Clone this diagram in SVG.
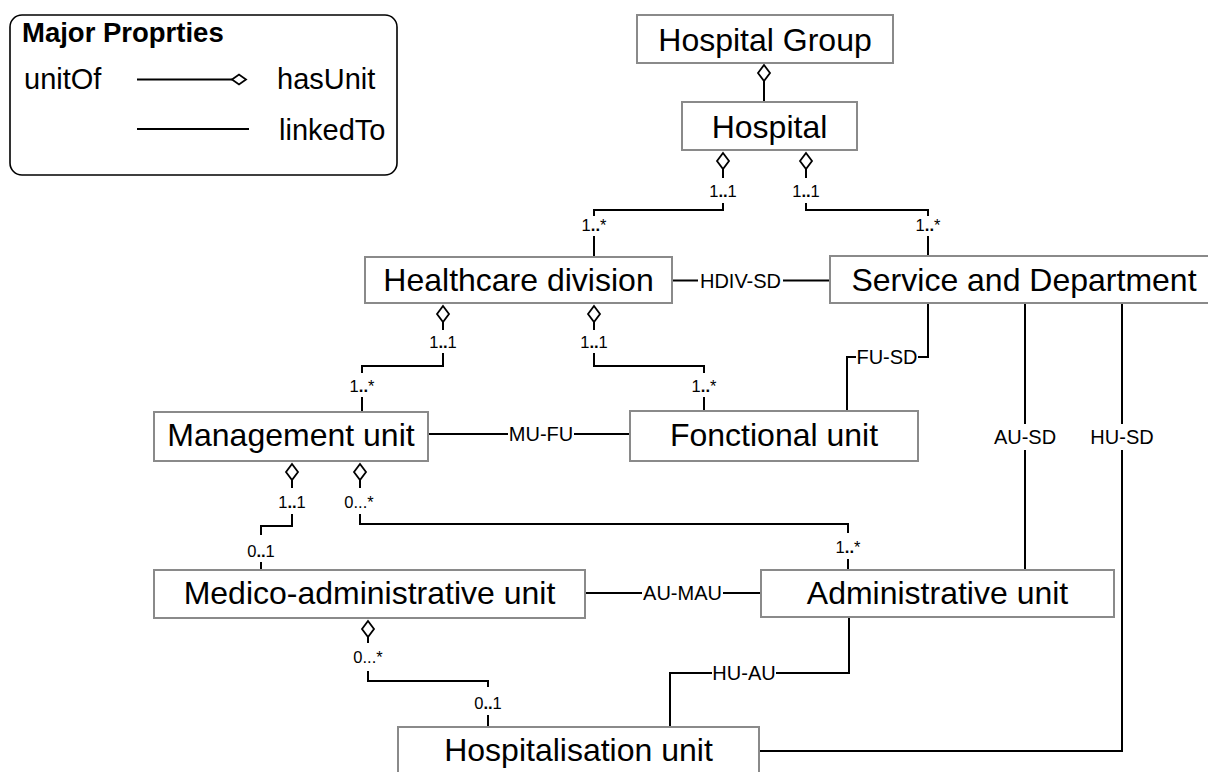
<svg xmlns="http://www.w3.org/2000/svg" xmlns:xlink="http://www.w3.org/1999/xlink" width="1208" height="772" viewBox="0 0 1208 772">
<style>
  text { font-family: "Liberation Sans", Arial, Helvetica, sans-serif; fill: #000; }
  .node rect { fill: #fff; stroke: #8a8a8a; stroke-width: 2; }
  .node text { font-size: 32px; text-anchor: middle; }
  .conn path { fill: none; stroke: #000; stroke-width: 2; }
  .lbl { font-size: 20px; text-anchor: middle; }
  .mult { font-size: 16.5px; text-anchor: middle; }
  .dia { fill: #fff; stroke: #000; stroke-width: 1.8; }
  .leg { font-size: 29px; }
</style>
<defs>
  <path id="dia" d="M0,0 L6,8 L0,16 L-6,8 Z"/>
</defs>

<g id="legend">
  <rect x="10" y="15" width="387" height="160" rx="12" ry="12" fill="#fff" stroke="#000" stroke-width="1.6"/>
  <text x="22" y="42" font-size="27.5" font-weight="bold">Major Proprties</text>
  <text class="leg" x="24" y="89">unitOf</text>
  <path d="M137,79.5 H232" stroke="#000" stroke-width="2" fill="none"/>
  <path d="M232,79.5 L239,74.5 L246,79.5 L239,84.5 Z" fill="#fff" stroke="#000" stroke-width="1.8"/>
  <text class="leg" x="277" y="89">hasUnit</text>
  <path d="M137,129 H249" stroke="#000" stroke-width="2" fill="none"/>
  <text class="leg" x="279" y="140">linkedTo</text>
</g>

<g id="connectors" class="conn">
  <!-- Hospital Group - Hospital -->
  <path d="M764,81 V102"/>
  <!-- Hospital - Healthcare division -->
  <path d="M723,169 V178"/>
  <path d="M723,203 V210 H594 V216"/>
  <path d="M594,236 V257"/>
  <!-- Hospital - Service and Department -->
  <path d="M806,169 V178"/>
  <path d="M806,203 V210 H928 V216"/>
  <path d="M928,236 V256"/>
  <!-- HDIV-SD -->
  <path d="M672,280.5 H698"/>
  <path d="M783,280.5 H830"/>
  <!-- Healthcare - Management -->
  <path d="M443,322 V330"/>
  <path d="M443,353 V366 H362 V373"/>
  <path d="M362,397 V412"/>
  <!-- Healthcare - Fonctional -->
  <path d="M594,322 V330"/>
  <path d="M594,353 V366 H704 V373"/>
  <path d="M704,397 V411"/>
  <!-- FU-SD -->
  <path d="M928,303 V357 H918"/>
  <path d="M856,357 H847 V411"/>
  <!-- MU-FU -->
  <path d="M428,434 H508"/>
  <path d="M574,434 H630"/>
  <!-- AU-SD -->
  <path d="M1025,303 V424"/>
  <path d="M1025,450 V570"/>
  <!-- HU-SD -->
  <path d="M1122,303 V424"/>
  <path d="M1122,450 V751 H759"/>
  <!-- Management - Medico -->
  <path d="M292,480 V488"/>
  <path d="M292,514 V526 H261 V535"/>
  <path d="M261,562 V570"/>
  <!-- Management - Administrative -->
  <path d="M360,480 V488"/>
  <path d="M360,514 V524 H848 V533"/>
  <path d="M848,559 V570"/>
  <!-- AU-MAU -->
  <path d="M585,593 H642"/>
  <path d="M723,593 H761"/>
  <!-- Medico - Hospitalisation -->
  <path d="M368,637 V643"/>
  <path d="M368,671 V681 H488 V687"/>
  <path d="M488,715 V727"/>
  <!-- HU-AU -->
  <path d="M849,617 V673 H776"/>
  <path d="M712,673 H670 V727"/>

  <!-- diamonds -->
  <use xlink:href="#dia" href="#dia" class="dia" x="764" y="65"/>
  <use xlink:href="#dia" href="#dia" class="dia" x="723" y="153"/>
  <use xlink:href="#dia" href="#dia" class="dia" x="806" y="153"/>
  <use xlink:href="#dia" href="#dia" class="dia" x="443" y="306"/>
  <use xlink:href="#dia" href="#dia" class="dia" x="594" y="306"/>
  <use xlink:href="#dia" href="#dia" class="dia" x="292" y="464"/>
  <use xlink:href="#dia" href="#dia" class="dia" x="360" y="464"/>
  <use xlink:href="#dia" href="#dia" class="dia" x="368" y="621"/>

  <!-- connector labels -->
  <text class="lbl" x="740.5" y="287.5">HDIV-SD</text>
  <text class="lbl" x="887" y="364">FU-SD</text>
  <text class="lbl" x="541" y="441">MU-FU</text>
  <text class="lbl" x="1025" y="444">AU-SD</text>
  <text class="lbl" x="1122" y="444">HU-SD</text>
  <text class="lbl" x="682.5" y="600">AU-MAU</text>
  <text class="lbl" x="744" y="680">HU-AU</text>

  <!-- multiplicities -->
  <text class="mult" x="723" y="197">1<tspan font-weight="bold">..</tspan>1</text>
  <text class="mult" x="806" y="197">1<tspan font-weight="bold">..</tspan>1</text>
  <text class="mult" x="594" y="231">1<tspan font-weight="bold">..</tspan>*</text>
  <text class="mult" x="928" y="231">1<tspan font-weight="bold">..</tspan>*</text>
  <text class="mult" x="443" y="348">1<tspan font-weight="bold">..</tspan>1</text>
  <text class="mult" x="594" y="348">1<tspan font-weight="bold">..</tspan>1</text>
  <text class="mult" x="362" y="392">1<tspan font-weight="bold">..</tspan>*</text>
  <text class="mult" x="704" y="392">1<tspan font-weight="bold">..</tspan>*</text>
  <text class="mult" x="292" y="508">1<tspan font-weight="bold">..</tspan>1</text>
  <text class="mult" x="359" y="508">0...*</text>
  <text class="mult" x="261" y="557">0<tspan font-weight="bold">..</tspan>1</text>
  <text class="mult" x="848" y="553">1<tspan font-weight="bold">..</tspan>*</text>
  <text class="mult" x="368" y="663">0...*</text>
  <text class="mult" x="488" y="709">0<tspan font-weight="bold">..</tspan>1</text>
</g>

<g id="hospital-group" class="node">
  <rect x="637" y="15" width="256" height="48"/>
  <text x="765" y="50.5">Hospital Group</text>
</g>
<g id="hospital" class="node">
  <rect x="682" y="102" width="175" height="48"/>
  <text x="769.5" y="137.5">Hospital</text>
</g>
<g id="healthcare-division" class="node">
  <rect x="365" y="257" width="307" height="46"/>
  <text x="518.5" y="290.5">Healthcare division</text>
</g>
<g id="service-and-department" class="node">
  <rect x="830" y="256" width="390" height="47"/>
  <text x="1024" y="290.5">Service and Department</text>
</g>
<g id="management-unit" class="node">
  <rect x="154" y="412" width="274" height="49"/>
  <text x="291" y="445.5">Management unit</text>
</g>
<g id="fonctional-unit" class="node">
  <rect x="630" y="411" width="288" height="50"/>
  <text x="774" y="445.5">Fonctional unit</text>
</g>
<g id="medico-administrative-unit" class="node">
  <rect x="154" y="570" width="431" height="48"/>
  <text x="369.5" y="603.5">Medico-administrative unit</text>
</g>
<g id="administrative-unit" class="node">
  <rect x="761" y="570" width="353" height="47"/>
  <text x="937.5" y="603.5">Administrative unit</text>
</g>
<g id="hospitalisation-unit" class="node">
  <rect x="398" y="727" width="361" height="52"/>
  <text x="578.5" y="761">Hospitalisation unit</text>
</g>
</svg>
